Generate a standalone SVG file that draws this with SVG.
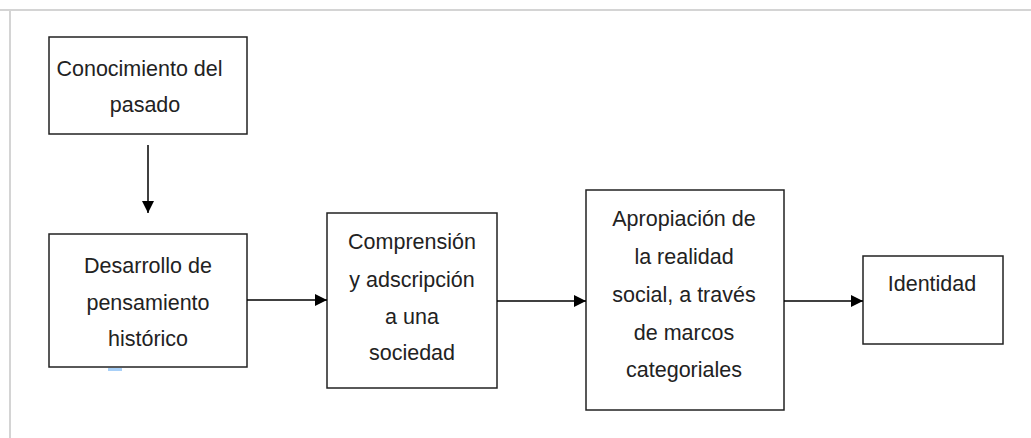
<svg xmlns="http://www.w3.org/2000/svg" width="1031" height="438" viewBox="0 0 1031 438">
<style>
.box{fill:#fff;stroke:#222;stroke-width:1.5}
.t{font-family:"Liberation Sans",Arial,sans-serif;font-size:21.5px;fill:#222;text-anchor:middle}
.c{stroke:#000;stroke-width:1.5;fill:none}
.frame{stroke:#d4d4d4;stroke-width:2;fill:none}
</style>
<defs>
<marker id="ah" viewBox="0 0 10 10" refX="10" refY="5" markerWidth="12" markerHeight="12" markerUnits="userSpaceOnUse" orient="auto">
<path d="M0,0 L10,5 L0,10 z" fill="#000"/>
</marker>
</defs>
<rect width="1031" height="438" fill="#fff"/>
<path class="frame" d="M0,10 H1031 M10,10 V438"/>
<rect x="108" y="368" width="14" height="3" fill="#a8d0f8"/>
<g id="n1">
<rect class="box" x="49" y="37" width="198" height="97"/>
<text class="t" x="139.5" y="76">Conocimiento del</text>
<text class="t" x="145" y="112">pasado</text>
</g>
<g id="n2">
<rect class="box" x="49" y="234" width="198" height="133"/>
<text class="t" x="148" y="273">Desarrollo de</text>
<text class="t" x="148" y="310">pensamiento</text>
<text class="t" x="148" y="346">histórico</text>
</g>
<g id="n3">
<rect class="box" x="327" y="213" width="170" height="175"/>
<text class="t" x="412" y="249">Comprensión</text>
<text class="t" x="412" y="287">y adscripción</text>
<text class="t" x="412" y="324">a una</text>
<text class="t" x="412" y="360">sociedad</text>
</g>
<g id="n4">
<rect class="box" x="586" y="190" width="198" height="220"/>
<text class="t" x="684" y="226">Apropiación de</text>
<text class="t" x="684" y="264">la realidad</text>
<text class="t" x="684" y="302">social, a través</text>
<text class="t" x="684" y="340">de marcos</text>
<text class="t" x="684" y="377">categoriales</text>
</g>
<g id="n5">
<rect class="box" x="863" y="256" width="140" height="88"/>
<text class="t" x="932" y="291">Identidad</text>
</g>
<g id="connectors">
<line class="c" x1="148" y1="145" x2="148" y2="213" marker-end="url(#ah)"/>
<line class="c" x1="247" y1="300" x2="327" y2="300" marker-end="url(#ah)"/>
<line class="c" x1="497" y1="301" x2="586" y2="301" marker-end="url(#ah)"/>
<line class="c" x1="784" y1="301" x2="863" y2="301" marker-end="url(#ah)"/>
</g>
</svg>
